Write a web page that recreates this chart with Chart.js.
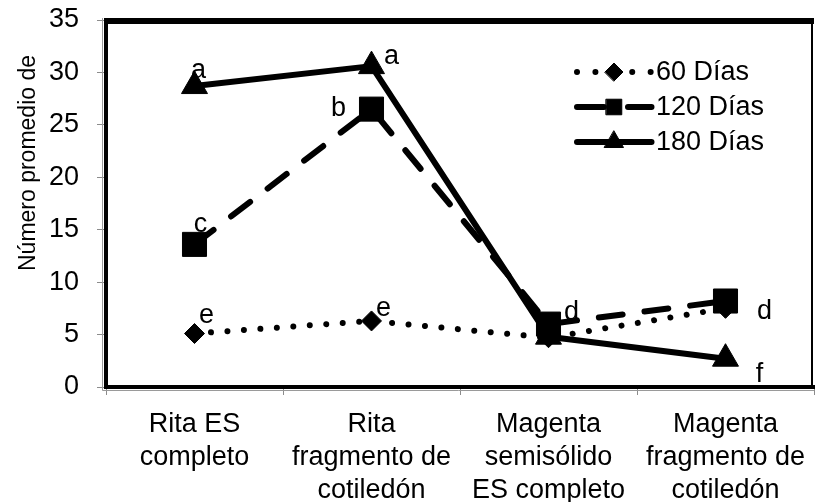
<!DOCTYPE html>
<html><head><meta charset="utf-8">
<script src="https://cdn.jsdelivr.net/npm/chart.js@4/dist/chart.umd.min.js"></script>
<style>html,body{margin:0;padding:0;background:#fff}#wrap{width:832px;height:502px;position:relative}</style>
</head><body><div id="wrap"><canvas id="c"></canvas></div>
<script>
const categories = [["Rita ES","completo"],["Rita","fragmento de","cotiledón"],["Magenta","semisólido","ES completo"],["Magenta","fragmento de","cotiledón"]];
const seriesNames = ["60 Días","120 Días","180 Días"];
const values60 = [5.1, 6.3, 4.7, 7.5];
const values120 = [13.6, 26.5, 6.0, 8.2];
const values180 = [28.7, 30.6, 4.8, 2.7];
const letters60 = ["e","e","",""];
const letters120 = ["c","b","d","d"];
const letters180 = ["a","a","","f"];
const yTicks = [0,5,10,15,20,25,30,35];
const yTitle = "Número promedio de";

const FONT = '"Liberation Sans", Arial, sans-serif';

// label offsets (px) relative to each point, per dataset index
const letterOffsets = [
  [[12,-18],[12,-12],[0,0],[0,0]],
  [[6,-20],[-33,-1],[23,-12],[39,11]],
  [[4,-16],[20,-10],[0,0],[34,16]]
];
const lettersBySeries = [letters60, letters120, letters180];

const lettersPlugin = {
  id:'letters',
  afterDatasetsDraw(chart){
    const ctx = chart.ctx;
    ctx.save();
    ctx.font = '27px ' + FONT;
    ctx.fillStyle = '#000';
    ctx.textAlign = 'center';
    ctx.textBaseline = 'middle';
    lettersBySeries.forEach((arr, di) => {
      const meta = chart.getDatasetMeta(di);
      arr.forEach((t, i) => {
        if (!t) return;
        const p = meta.data[i];
        ctx.fillText(t, p.x + letterOffsets[di][i][0], p.y + letterOffsets[di][i][1]);
      });
    });
    ctx.restore();
  }
};

const framePlugin = {
  id:'frame',
  beforeDatasetsDraw(chart){
    const a = chart.chartArea, ctx = chart.ctx;
    ctx.save();
    ctx.strokeStyle = '#000';
    ctx.lineWidth = 6;
    ctx.beginPath(); ctx.moveTo(a.left - 2, a.top + 1); ctx.lineTo(a.right, a.top + 1); ctx.stroke();
    ctx.lineWidth = 2;
    ctx.beginPath(); ctx.moveTo(a.right - 2, a.top - 2); ctx.lineTo(a.right - 2, a.bottom); ctx.stroke();
    ctx.strokeStyle = '#9a9a9a';
    ctx.lineWidth = 1;
    ctx.beginPath(); ctx.moveTo(a.left - 3.5, a.top - 2); ctx.lineTo(a.left - 3.5, a.bottom + 3.5); ctx.lineTo(a.right, a.bottom + 3.5); ctx.stroke();
    ctx.restore();
  }
};

const titlePlugin = {
  id:'ytitle',
  afterDraw(chart){
    const ctx = chart.ctx;
    ctx.save();
    ctx.translate(35, 163);
    ctx.rotate(-Math.PI/2);
    ctx.font = '23px ' + FONT;
    ctx.fillStyle = '#000';
    ctx.textAlign = 'center';
    ctx.textBaseline = 'alphabetic';
    ctx.fillText(yTitle, 0, 0);
    ctx.restore();
  }
};

const legendPlugin = {
  id:'customLegend',
  afterDraw(chart){
    const ctx = chart.ctx;
    const rows = [72, 107, 142];
    const x0 = 577, x1 = 651.5, xm = 614;
    const legendDash = [[0.01, 18.4],[27, 24],[]];
    const legendRadius = [9, 11, 11];
    ctx.save();
    chart.data.datasets.forEach((ds, i) => {
      const y = rows[i];
      ctx.strokeStyle = '#000';
      ctx.lineWidth = ds.borderWidth;
      ctx.lineCap = 'round';
      ctx.setLineDash(legendDash[i]);
      ctx.beginPath(); ctx.moveTo(x0, y); ctx.lineTo(x1, y); ctx.stroke();
      ctx.setLineDash([]);
      ctx.fillStyle = '#000';
      ctx.lineWidth = 1;
      Chart.helpers.drawPoint(ctx, {pointStyle: ds.pointStyle, radius: legendRadius[i], borderWidth: 1, rotation: 0}, xm, y);
      ctx.font = '27px ' + FONT;
      ctx.textAlign = 'left';
      ctx.textBaseline = 'middle';
      ctx.fillText(ds.label, 656, y + 1);
    });
    ctx.restore();
  }
};

const common = {borderColor:'#000', backgroundColor:'#000', pointBackgroundColor:'#000', pointBorderColor:'#000', pointBorderWidth:1, fill:false, tension:0, borderCapStyle:'round', borderJoinStyle:'round'};

new Chart(document.getElementById('c'), {
  type:'line',
  data:{
    labels: categories,
    datasets:[
      Object.assign({label: seriesNames[0], data: values60, borderWidth:6, borderDash:[0.01,16.5], pointStyle:'rectRot', pointRadius:10, order:3}, common),
      Object.assign({label: seriesNames[1], data: values120, borderWidth:6, borderDash:[24,22], pointStyle:'rect', pointRadius:17, order:2}, common),
      Object.assign({label: seriesNames[2], data: values180, borderWidth:6, pointStyle:'triangle', pointRadius:15, order:1}, common)
    ]
  },
  options:{
    responsive:true, maintainAspectRatio:false, animation:false,
    layout:{padding:{top:20, right:2, left:0, bottom:0}},
    plugins:{legend:{display:false}, tooltip:{enabled:false}},
    scales:{
      x:{
        offset:true,
        grid:{display:true, drawOnChartArea:false, drawTicks:true, tickLength:8, color:'#8c8c8c', offset:true},
        border:{display:true, color:'#000', width:4},
        ticks:{color:'#000', font:{family:FONT, size:27, lineHeight:1.22}, padding:13, maxRotation:0, autoSkip:false},
        afterFit(s){ s.height = 115; s.paddingLeft = 0; s.paddingRight = 0; }
      },
      y:{
        min:0, max:35,
        afterBuildTicks(s){ s.ticks = yTicks.map(v => ({value:v})); },
        grid:{drawOnChartArea:false, drawTicks:true, tickLength:9, color:'#8c8c8c'},
        border:{display:true, color:'#000', width:4},
        ticks:{color:'#000', font:{family:FONT, size:27}, padding:18},
        afterFit(s){ s.width = 106; s.paddingTop = 0; s.paddingBottom = 0; }
      }
    }
  },
  plugins:[framePlugin, lettersPlugin, legendPlugin, titlePlugin]
});
</script></body></html>
